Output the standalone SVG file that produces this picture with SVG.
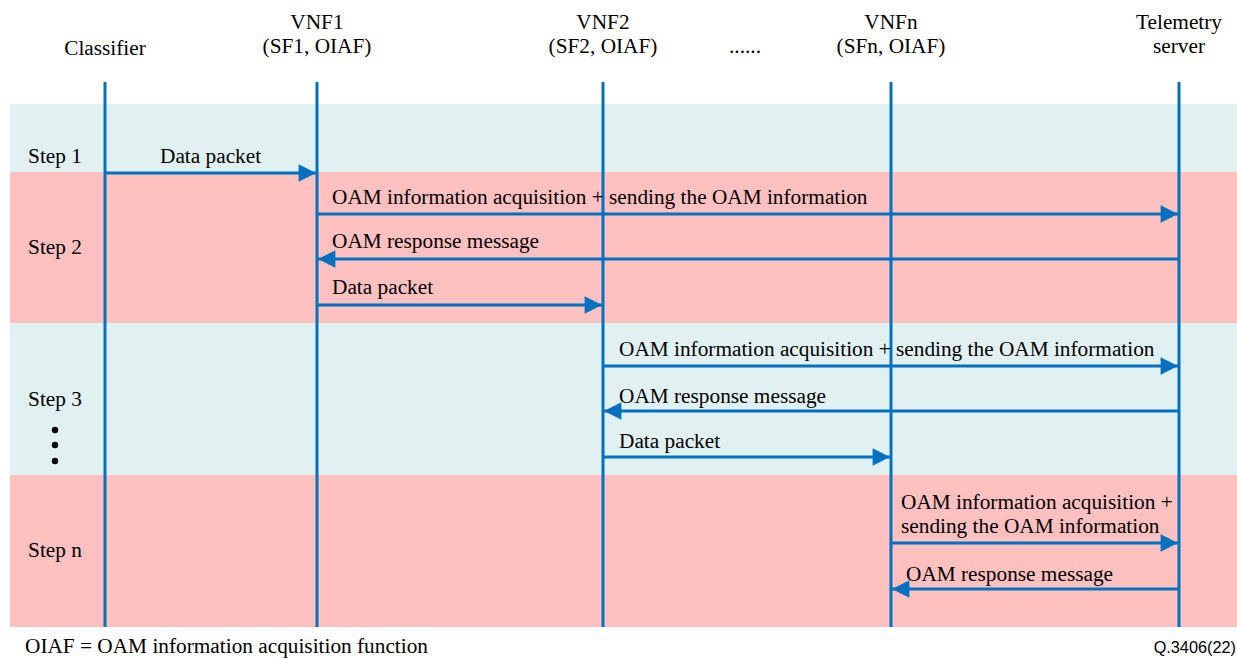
<svg xmlns="http://www.w3.org/2000/svg" width="1237" height="659" viewBox="0 0 1237 659">
<defs>
<style>
.t{font-family:"Liberation Serif","Times New Roman",serif;font-size:21.3px;fill:#000}
.m{text-anchor:middle}
.life{stroke:#0070C0;stroke-width:3;fill:none}
.msg{stroke:#0070C0;stroke-width:3;fill:none;marker-end:url(#ah)}
.cyan{fill:#E1F1F2}
.pink{fill:#FFC0C0}
</style>
<marker id="ah" viewBox="0 0 10 10" refX="10" refY="5" markerWidth="7.3" markerHeight="5.8" markerUnits="strokeWidth" orient="auto">
<path d="M0,0 L10,5 L0,10 z" fill="#0070C0"/>
</marker>
</defs>
<rect width="1237" height="659" fill="#fff"/>
<g id="bands">
<rect class="cyan" x="10" y="104" width="1227" height="68"/>
<rect class="pink" x="10" y="172" width="1227" height="151"/>
<rect class="cyan" x="10" y="323" width="1227" height="152"/>
<rect class="pink" x="10" y="475" width="1227" height="152"/>
</g>
<g id="classifier">
<text class="t m" x="105" y="55">Classifier</text>
<line class="life" x1="105" y1="82" x2="105" y2="627"/>
</g>
<g id="vnf1">
<text class="t m" x="317" y="29">VNF1</text>
<text class="t m" x="317" y="53">(SF1, OIAF)</text>
<line class="life" x1="317" y1="82" x2="317" y2="627"/>
</g>
<g id="vnf2">
<text class="t m" x="603" y="29">VNF2</text>
<text class="t m" x="603" y="53">(SF2, OIAF)</text>
<line class="life" x1="603" y1="82" x2="603" y2="627"/>
</g>
<g id="ellipsis">
<text class="t m" x="745" y="53">......</text>
</g>
<g id="vnfn">
<text class="t m" x="891" y="29">VNFn</text>
<text class="t m" x="891" y="53">(SFn, OIAF)</text>
<line class="life" x1="891" y1="82" x2="891" y2="627"/>
</g>
<g id="telemetry">
<text class="t m" x="1179" y="29">Telemetry</text>
<text class="t m" x="1179" y="53">server</text>
<line class="life" x1="1179" y1="82" x2="1179" y2="627"/>
</g>
<g id="steps">
<text class="t m" x="55" y="163">Step 1</text>
<text class="t m" x="55" y="254">Step 2</text>
<text class="t m" x="55" y="406">Step 3</text>
<circle cx="55" cy="430" r="3.2" fill="#000"/>
<circle cx="55" cy="445" r="3.2" fill="#000"/>
<circle cx="55" cy="461" r="3.2" fill="#000"/>
<text class="t m" x="55" y="557">Step n</text>
</g>
<g id="connectors">
<line class="msg" x1="105" y1="173" x2="316" y2="173"/>
<line class="msg" x1="317" y1="214" x2="1178" y2="214"/>
<line class="msg" x1="1179" y1="259" x2="318" y2="259"/>
<line class="msg" x1="317" y1="305" x2="602" y2="305"/>
<line class="msg" x1="603" y1="366" x2="1178" y2="366"/>
<line class="msg" x1="1179" y1="411" x2="604" y2="411"/>
<line class="msg" x1="603" y1="457" x2="890" y2="457"/>
<line class="msg" x1="891" y1="543" x2="1178" y2="543"/>
<line class="msg" x1="1179" y1="589" x2="892" y2="589"/>
</g>
<g id="labels">
<text class="t" x="160" y="163">Data packet</text>
<text class="t" x="332" y="204">OAM information acquisition + sending the OAM information</text>
<text class="t" x="332" y="248">OAM response message</text>
<text class="t" x="332" y="294">Data packet</text>
<text class="t" x="619" y="356">OAM information acquisition + sending the OAM information</text>
<text class="t" x="619" y="403">OAM response message</text>
<text class="t" x="619" y="448">Data packet</text>
<text class="t" x="901" y="509">OAM information acquisition +</text>
<text class="t" x="901" y="533">sending the OAM information</text>
<text class="t" x="906" y="581">OAM response message</text>
</g>
<g id="footer">
<text class="t" x="25" y="653">OIAF = OAM information acquisition function</text>
<text x="1236" y="653" text-anchor="end" style="font-family:'Liberation Sans',Arial,sans-serif;font-size:16.3px;fill:#000">Q.3406(22)</text>
</g>
</svg>
